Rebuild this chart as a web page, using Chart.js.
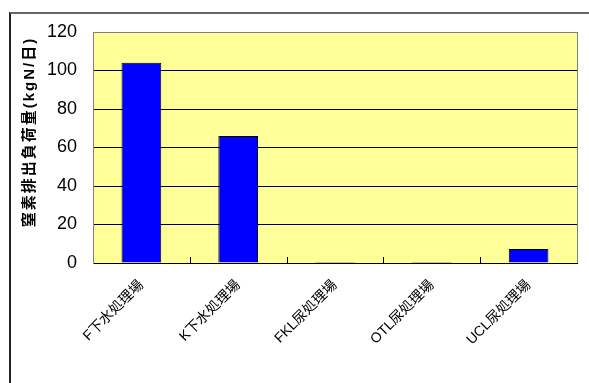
<!DOCTYPE html>
<html>
<head>
<meta charset="utf-8">
<script src="https://cdn.jsdelivr.net/npm/chart.js@4/dist/chart.umd.min.js"></script>
<style>
  html, body { margin: 0; padding: 0; background: #fff; }
  #wrap { position: relative; width: 589px; height: 383px; overflow: hidden; }
  .frame {
    position: absolute; left: 9px; top: 12px; right: -4px; bottom: -4px;
    border-top: 2px solid #666; border-left: 2px solid #222;
  }
  canvas { position: absolute; left: 0; top: 0; }
</style>
</head>
<body>
<div id="wrap">
  <div class="frame"></div>
  <canvas id="chart" width="589" height="383"></canvas>
</div>
<script>
// plants and their nitrogen discharge load (kgN/day)
const plants = ["F下水処理場", "K下水処理場", "FKL尿処理場", "OTL尿処理場", "UCL尿処理場"];
const nitrogenLoad = [104, 66, 0.5, 0.5, 7.3];
const yMin = 0;
const yMax = 120;
const yStep = 20;
const yTitle = "窒素排出負荷量(kgN/日)";

const FONT_LAT = "'Liberation Sans', Arial, 'Noto Sans CJK JP', sans-serif";

// yellow plot area, grey right edge, short inward ticks between categories
const plotFrame = {
  id: "plotFrame",
  beforeDraw(chart) {
    const { ctx, chartArea: a } = chart;
    ctx.save();
    ctx.fillStyle = "#FFFF99";
    ctx.fillRect(a.left, a.top, a.right - a.left, a.bottom - a.top);
    ctx.restore();
  },
  afterDraw(chart) {
    const { ctx, chartArea: a } = chart;
    const x = chart.scales.x;
    ctx.save();
    ctx.strokeStyle = "#808080";
    ctx.lineWidth = 1;
    ctx.beginPath();
    ctx.moveTo(a.right + 0.5, a.top);
    ctx.lineTo(a.right + 0.5, a.bottom);
    ctx.stroke();
    ctx.strokeStyle = "#000";
    ctx.beginPath();
    for (let i = 1; i < plants.length; i++) {
      const px = Math.round((x.getPixelForValue(i - 1) + x.getPixelForValue(i)) / 2) + 0.5;
      ctx.moveTo(px, a.bottom);
      ctx.lineTo(px, a.bottom - 6);
    }
    ctx.stroke();

    // rotated y-axis title
    ctx.fillStyle = "#000";
    ctx.font = "bold 15px " + FONT_LAT;
    ctx.letterSpacing = "2px";
    ctx.textAlign = "center";
    ctx.textBaseline = "middle";
    ctx.translate(30, 132);
    ctx.rotate(-Math.PI / 2);
    ctx.fillText(yTitle, 0, 0);
    ctx.restore();
  }
};

new Chart(document.getElementById("chart"), {
  type: "bar",
  data: {
    labels: plants,
    datasets: [{
      data: nitrogenLoad,
      backgroundColor: "#0000FF",
      borderColor: "#000",
      borderWidth: 1,
      barPercentage: 0.41,
      categoryPercentage: 1
    }]
  },
  options: {
    responsive: false,
    animation: false,
    layout: { padding: { top: 32, right: 12, left: 0, bottom: 0 } },
    plugins: { legend: { display: false }, tooltip: { enabled: false } },
    scales: {
      x: {
        afterFit: s => { s.height = 120; },
        grid: { drawOnChartArea: false, drawTicks: false },
        border: { color: "#000", width: 1 },
        ticks: {
          maxRotation: 45,
          minRotation: 45,
          padding: 14,
          color: "#000",
          font: { family: FONT_LAT, size: 14 }
        }
      },
      y: {
        min: yMin,
        max: yMax,
        afterFit: s => { s.width = 93; },
        grid: {
          drawTicks: false,
          color: c => (c.tick && c.tick.value === yMax ? "#808080" : "#000"),
          lineWidth: 1
        },
        border: { color: "#808080", width: 1 },
        ticks: {
          stepSize: yStep,
          padding: 16,
          color: "#000",
          font: { family: FONT_LAT, size: 18 }
        }
      }
    }
  },
  plugins: [plotFrame]
});
</script>
</body>
</html>
